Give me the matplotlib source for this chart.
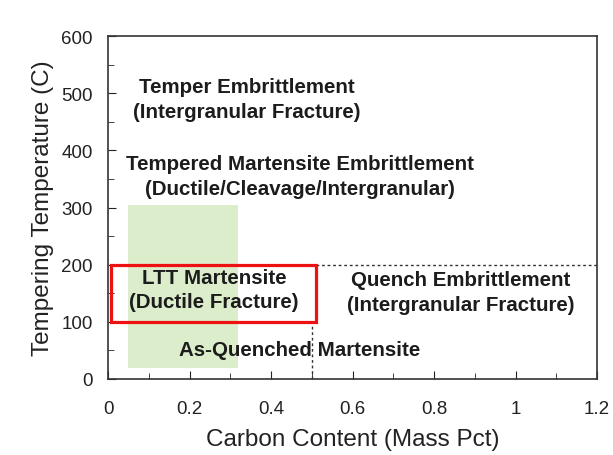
import matplotlib.pyplot as plt
from matplotlib.patches import Rectangle
from matplotlib.ticker import MultipleLocator

# tick labels
x_ticks = [0, 0.2, 0.4, 0.6, 0.8, 1.0, 1.2]
x_labels = ['0', '0.2', '0.4', '0.6', '0.8', '1', '1.2']
y_ticks = [0, 100, 200, 300, 400, 500, 600]

# region labels: text, x, y
regions = ['Temper Embrittlement\n(Intergranular Fracture)',
           'Tempered Martensite Embrittlement\n(Ductile/Cleavage/Intergranular)',
           'LTT Martensite\n(Ductile Fracture)',
           'Quench Embrittlement\n(Intergranular Fracture)',
           'As-Quenched Martensite']
region_x = [0.34, 0.47, 0.26, 0.865, 0.47]
region_y = [490, 355, 157, 152, 52]

# boundaries
green_box = (0.05, 20, 0.32, 305)   # x0, y0, x1, y1
red_box = (0.007, 100, 0.51, 200)
boundary_c = 0.5
boundary_t = 200

plt.rcParams['font.family'] = ['Liberation Sans', 'DejaVu Sans']

fig = plt.figure(figsize=(6.13, 4.56), dpi=100)
ax = fig.add_axes([108/613, 1 - 380/456, 489/613, 343/456])
ax.set_xlim(0, 1.2)
ax.set_ylim(0, 600)

ax.add_patch(Rectangle((green_box[0], green_box[1]), green_box[2] - green_box[0],
                       green_box[3] - green_box[1], facecolor='#dcedcb',
                       edgecolor='none', zorder=1))

for txt, x, y in zip(regions, region_x, region_y):
    ax.text(x, y, txt, ha='center', va='center', fontsize=14.8,
            fontweight='bold', color='#1c1c1c', linespacing=1.35, zorder=3)

ax.add_patch(Rectangle((red_box[0], red_box[1]), red_box[2] - red_box[0],
                       red_box[3] - red_box[1], facecolor='none',
                       edgecolor='#ee1111', lw=2.3, zorder=4, clip_on=False))

ax.plot([red_box[2], 1.2], [boundary_t, boundary_t], ls=(0, (2, 2)),
        color='#333333', lw=1, zorder=2)
ax.plot([boundary_c, boundary_c], [0, red_box[1]], ls=(0, (2, 2)),
        color='#333333', lw=1, zorder=2)

ax.set_xticks(x_ticks)
ax.set_xticklabels(x_labels)
ax.set_yticks(y_ticks)
ax.xaxis.set_minor_locator(MultipleLocator(0.1))
ax.yaxis.set_minor_locator(MultipleLocator(50))
ax.tick_params(which='both', direction='in', top=False, right=False,
               labelsize=13.5, colors='#222222')
ax.tick_params(axis='x', which='major', length=6, pad=15)
ax.tick_params(axis='y', which='major', length=6, pad=11)
ax.tick_params(which='minor', length=4)
for s in ax.spines.values():
    s.set_color('#333333')
    s.set_linewidth(1.2)

ax.set_xlabel('Carbon Content (Mass Pct)', fontsize=17.5, color='#222222',
              labelpad=8)
ax.set_ylabel('Tempering Temperature (C)', fontsize=17.5, color='#222222',
              labelpad=5)

fig.savefig('out.png', dpi=100)
